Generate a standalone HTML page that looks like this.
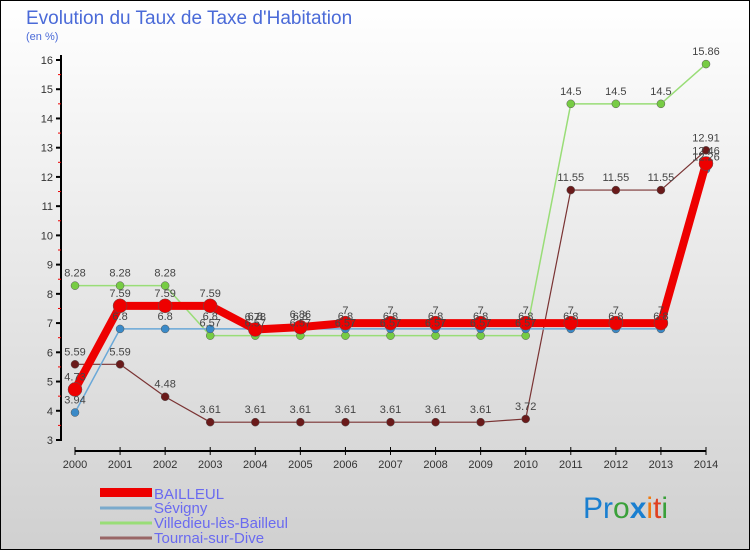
<!DOCTYPE html>
<html><head><meta charset="utf-8"><style>
body{margin:0}
#c{width:750px;height:550px;position:relative;overflow:hidden;font-family:"Liberation Sans",sans-serif}
</style></head><body>
<div id="c">
<svg id="s" width="750" height="550" xmlns="http://www.w3.org/2000/svg">
<defs><linearGradient id="bg" x1="0" y1="0" x2="0" y2="1"><stop offset="0" stop-color="#ffffff"/><stop offset="1" stop-color="#d0d0d0"/></linearGradient></defs>
<rect x="0.5" y="0.5" width="749" height="549" fill="url(#bg)" stroke="#000"/>
<text x="26" y="24" font-size="19" fill="#4a6ad8">Evolution du Taux de Taxe d'Habitation</text>
<text x="26" y="40" font-size="11" fill="#4a6ad8">(en %)</text>
<g id="axes"></g><g id="series"></g><g id="labels"></g>
<g font-size="15" fill="#6a6af0">
<rect x="100" y="488" width="52" height="9" fill="#ee0000"/>
<text x="154" y="499">BAILLEUL</text>
<line x1="100" y1="508" x2="152" y2="508" stroke="#7aaacc" stroke-width="3"/>
<text x="154" y="513">Sévigny</text>
<line x1="100" y1="523" x2="152" y2="523" stroke="#99dd77" stroke-width="3"/>
<text x="154" y="528">Villedieu-lès-Bailleul</text>
<line x1="100" y1="538" x2="152" y2="538" stroke="#996666" stroke-width="3"/>
<text x="154" y="543">Tournai-sur-Dive</text>
</g>
<g font-size="30">
<text x="583" y="518"><tspan fill="#1a7fd0">Pr</tspan><tspan fill="#3aa03a">o</tspan><tspan fill="#1a7fd0" font-weight="bold">x</tspan><tspan fill="#f07a10">i</tspan><tspan fill="#e04020">t</tspan><tspan fill="#3aa03a">i</tspan></text>
</g>
</svg></div>
<script>
const years=[2000,2001,2002,2003,2004,2005,2006,2007,2008,2009,2010,2011,2012,2013,2014];
const yTicks=[3,4,5,6,7,8,9,10,11,12,13,14,15,16];
const bailleul=[4.73,7.59,7.59,7.59,6.78,6.86,7,7,7,7,7,7,7,7,12.46];
const sevigny=[3.94,6.8,6.8,6.8,6.8,6.8,6.8,6.8,6.8,6.8,6.8,6.8,6.8,6.8,12.26];
const villedieu=[8.28,8.28,8.28,6.57,6.57,6.57,6.57,6.57,6.57,6.57,6.57,14.5,14.5,14.5,15.86];
const tournai=[5.59,5.59,4.48,3.61,3.61,3.61,3.61,3.61,3.61,3.61,3.72,11.55,11.55,11.55,12.91];
const NS="http://www.w3.org/2000/svg";
const X=i=>75+i*(706-75)/14;
const Y=v=>440-(v-3)*(440-60)/13;
function mk(t,a,p){const e=document.createElementNS(NS,t);for(const k in a)e.setAttribute(k,a[k]);p.appendChild(e);return e;}
const ax=document.getElementById('axes');
let e=mk('line',{x1:61,y1:55,x2:61,y2:441,stroke:'#000','stroke-width':2},ax);


e=mk('line',{x1:75,y1:451,x2:706,y2:451,stroke:'#000','stroke-width':2},ax);


yTicks.forEach(v=>{
 mk('line',{x1:56,y1:Y(v),x2:61,y2:Y(v),stroke:'#000','stroke-width':2},ax);
 if(v<16)mk('line',{x1:58,y1:Y(v+0.5),x2:61,y2:Y(v+0.5),stroke:'#e00','stroke-width':1},ax);
 const t=mk('text',{x:53,y:Y(v)+4,'text-anchor':'end','font-size':11,fill:'#333'},ax);t.textContent=v;
 
 
});
years.forEach((yr,i)=>{
 mk('line',{x1:X(i),y1:447,x2:X(i),y2:455,stroke:'#000','stroke-width':1},ax);
 const t=mk('text',{x:X(i),y:468,'text-anchor':'middle','font-size':11,fill:'#333'},ax);t.textContent=yr;
 
 
});
const sg=document.getElementById('series'),lg=document.getElementById('labels');
function draw(vals,color,w,r,name,dot){
 const pts=vals.map((v,i)=>X(i)+','+Y(v)).join(' ');
 const p=mk('polyline',{points:pts,fill:'none',stroke:color,'stroke-width':w,'stroke-linejoin':'round'},sg);
 
 
 vals.forEach((v,i)=>{
  const c=mk('circle',{cx:X(i),cy:Y(v),r:r,fill:dot,stroke:'#555','stroke-width':0.5},sg);
  
  
  const t=mk('text',{x:X(i),y:Y(v)-9,'text-anchor':'middle','font-size':11,fill:'#444'},lg);t.textContent=v;
  
  
 });
}
draw(villedieu,'#99dd77',1.5,4,'villedieu','#77cc44');
draw(tournai,'#7a3333',1.2,4,'tournai','#6a1a1a');
draw(sevigny,'#6aa8d8',1.5,4,'sevigny','#3a8ac8');
draw(bailleul,'#ee0000',8,7,'bailleul','#ee0000');
</script>
</body></html>
